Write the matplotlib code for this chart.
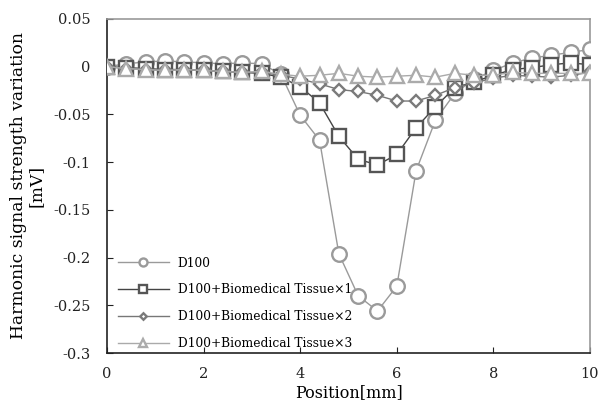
import matplotlib
matplotlib.use("Agg")
import matplotlib.pyplot as plt
import numpy as np

positions = [0.0, 0.4, 0.8, 1.2, 1.6, 2.0, 2.4, 2.8, 3.2, 3.6, 4.0, 4.4, 4.8,
             5.2, 5.6, 6.0, 6.4, 6.8, 7.2, 7.6, 8.0, 8.4, 8.8, 9.2, 9.6, 10.0]

d100 = [0.000, 0.003, 0.005, 0.006, 0.005, 0.004, 0.003, 0.004, 0.003, -0.008,
        -0.051, -0.077, -0.196, -0.240, -0.256, -0.230, -0.109, -0.056, -0.028,
        -0.013, -0.004, 0.004, 0.009, 0.012, 0.015, 0.018]
tissue1 = [0.000, -0.001, -0.002, -0.003, -0.003, -0.004, -0.005, -0.006, -0.007,
           -0.011, -0.021, -0.038, -0.073, -0.097, -0.103, -0.092, -0.064, -0.042,
           -0.022, -0.016, -0.009, -0.003, -0.001, 0.002, 0.004, 0.002]
tissue2 = [0.000, -0.002, -0.003, -0.004, -0.003, -0.004, -0.005, -0.006, -0.006,
           -0.009, -0.013, -0.018, -0.024, -0.026, -0.030, -0.036, -0.036, -0.030,
           -0.022, -0.017, -0.012, -0.009, -0.010, -0.011, -0.009, -0.006]
tissue3 = [0.000, -0.002, -0.003, -0.004, -0.003, -0.004, -0.005, -0.006, -0.005,
           -0.008, -0.010, -0.009, -0.007, -0.010, -0.011, -0.010, -0.009, -0.011,
           -0.007, -0.009, -0.009, -0.006, -0.007, -0.007, -0.007, -0.007]

labels = ["D100", "D100+Biomedical Tissue×1", "D100+Biomedical Tissue×2",
          "D100+Biomedical Tissue×3"]
xticks = [0, 2, 4, 6, 8, 10]
yticks = [0.05, 0, -0.05, -0.1, -0.15, -0.2, -0.25, -0.3]
ytick_labels = ["0.05", "0", "-0.05", "-0.1", "-0.15", "-0.2", "-0.25", "-0.3"]

plt.rcParams['font.family'] = ['DejaVu Serif']
plt.rcParams['axes.unicode_minus'] = False

fig = plt.figure(figsize=(5.98, 4.03), dpi=100)
ax = fig.add_axes([0.179, 0.124, 0.8076, 0.829])

ax.plot(positions, d100, color='#9a9a9a', lw=1.0, marker='o', ms=10.5,
        mfc='white', mec='#9a9a9a', mew=1.7, label=labels[0], zorder=3)
ax.plot(positions, tissue1, color='#444444', lw=1.0, marker='s', ms=10,
        mfc='white', mec='#555555', mew=1.7, label=labels[1], zorder=4)
ax.plot(positions, tissue2, color='#777777', lw=1.0, marker='D', ms=6,
        mfc='white', mec='#7a7a7a', mew=1.7, label=labels[2], zorder=5)
ax.plot(positions, tissue3, color='#aaaaaa', lw=1.0, marker='^', ms=10,
        mfc='white', mec='#ababab', mew=1.7, label=labels[3], zorder=6)

ax.set_xlim(0, 10)
ax.set_ylim(-0.3, 0.05)
ax.set_xticks(xticks)
ax.set_xticklabels([str(t) for t in xticks])
ax.set_yticks(yticks)
ax.set_yticklabels(ytick_labels)
ax.tick_params(direction='in', length=4, width=0.8, labelsize=10.5, colors='#222222')
ax.tick_params(axis='x', pad=10)
ax.tick_params(axis='y', pad=12)

for s in ['left', 'bottom']:
    ax.spines[s].set_color('#222222')
    ax.spines[s].set_linewidth(1.2)
for s in ['top', 'right']:
    ax.spines[s].set_color('#999999')
    ax.spines[s].set_linewidth(1.2)

ax.set_xlabel("Position[mm]", fontsize=11.5, labelpad=2)
ax.set_ylabel("Harmonic signal strength variation\n[mV]", fontsize=12.3,
              linespacing=1.05, labelpad=6)

leg = ax.legend(loc='lower left', bbox_to_anchor=(0.012, -0.005), frameon=False,
                fontsize=8.8, markerscale=0.55, handlelength=4.2, labelspacing=1.12,
                borderaxespad=0.1, handletextpad=0.7, borderpad=0.3)

fig.savefig("out.png", dpi=100)
